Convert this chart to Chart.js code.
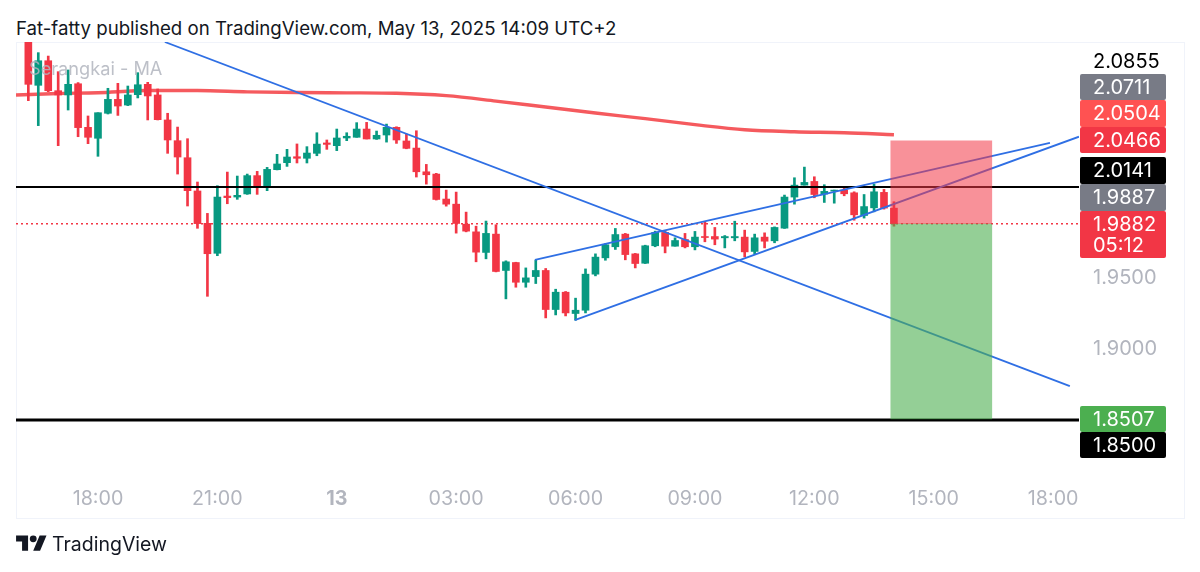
<!DOCTYPE html>
<html>
<head>
<meta charset="utf-8">
<script src="https://cdn.jsdelivr.net/npm/chart.js@4"></script>
<style>
  html, body { margin: 0; padding: 0; background: #fff; width: 1200px; height: 572px; overflow: hidden; }
  body { position: relative; font-family: Inter, "Noto Sans", sans-serif; }
  #title { position: absolute; left: 16px; top: 16px; font-size: 18.65px; line-height: 24px; color: #131722; white-space: nowrap; }
  #pane { position: absolute; left: 16px; top: 42px; width: 1167px; height: 475px; border: 1px solid #f0f3fa; }
  #chart { position: absolute; left: 0; top: 0; }
  #brand { position: absolute; left: 16px; top: 531px; height: 26px; display: flex; align-items: center; font-size: 19.5px; color: #131722; }
  #brand svg { width: 31px; height: 24px; margin-right: 5px; }
</style>
</head>
<body>
<div id="title">Fat-fatty published on TradingView.com, May 13, 2025 14:09 UTC+2</div>
<div id="pane"></div>
<canvas id="chart" width="1200" height="572"></canvas>
<div id="brand">
  <svg viewBox="0 0 36 28"><path d="M14 22H7V11H0V4h14v18zM28 22h-8l7.5-18h8L28 22z" fill="#131722"/><circle cx="20" cy="8" r="4" fill="#131722"/></svg>
  <span>TradingView</span>
</div>
<script>
// hours counted from May 12 00:00, 15 minute candles
const candleTimes = [
  16.25,16.5,16.75,17,17.25,17.5,17.75,18,18.25,18.5,18.75,19,19.25,19.5,19.75,20,20.25,20.5,20.75,21,21.25,21.5,
  21.75,22,22.25,22.5,22.75,23,23.25,23.5,23.75,24,24.25,24.5,24.75,25,25.25,25.5,25.75,26,26.25,26.5,26.75,27,
  27.25,27.5,27.75,28,28.25,28.5,28.75,29,29.25,29.5,29.75,30,30.25,30.5,30.75,31,31.25,31.5,31.75,32,32.25,32.5,
  32.75,33,33.25,33.5,33.75,34,34.25,34.5,34.75,35,35.25,35.5,35.75,36,36.25,36.5,36.75,37,37.25,37.5,37.75,38
];
const opens = [
  2.1250,2.0857,2.1030,2.0819,2.0789,2.0868,2.0561,2.0484,2.0660,2.0758,2.0718,2.0791,2.0864,2.0789,2.0613,2.0467,2.0347,2.0113,1.9885,1.9674,2.0077,2.0070,
  2.0092,2.0221,2.0141,2.0263,2.0312,2.0354,2.0343,2.0378,2.0451,2.0432,2.0486,2.0491,2.0549,2.0479,2.0507,2.0561,2.0465,2.0415,2.0248,2.0232,2.0056,2.0020,
  1.9879,1.9825,1.9680,1.9809,1.9553,1.9609,1.9470,1.9510,1.9553,1.9278,1.9400,1.9250,1.9273,1.9527,1.9642,1.9720,1.9809,1.9670,1.9604,1.9727,1.9821,1.9724,
  1.9771,1.9720,1.9792,1.9792,1.9783,1.9783,1.9788,1.9687,1.9788,1.9762,1.9851,2.0070,2.0154,2.0180,2.0091,2.0112,2.0119,2.0100,1.9940,1.9994,2.0103,1.9992
];
const highs = [
  2.1300,2.1087,2.1063,2.0953,2.0965,2.0876,2.0641,2.0664,2.0836,2.0871,2.0852,2.0946,2.0878,2.0831,2.0660,2.0563,2.0481,2.0176,1.9955,2.0150,2.0246,2.0218,
  2.0232,2.0251,2.0279,2.0371,2.0406,2.0444,2.0425,2.0523,2.0472,2.0549,2.0523,2.0594,2.0596,2.0535,2.0584,2.0565,2.0514,2.0537,2.0300,2.0237,2.0119,2.0105,
  1.9964,1.9865,1.9901,1.9875,1.9621,1.9611,1.9571,1.9626,1.9567,1.9421,1.9405,1.9358,1.9564,1.9670,1.9741,1.9849,1.9814,1.9673,1.9731,1.9830,1.9832,1.9783,
  1.9814,1.9828,1.9893,1.9856,1.9799,1.9900,1.9837,1.9809,1.9818,1.9860,2.0084,2.0206,2.0281,2.0213,2.0157,2.0119,2.0143,2.0107,2.0088,2.0161,2.0124,2.0037
];
const lows = [
  2.0749,2.0573,2.0812,2.0432,2.0683,2.0495,2.0446,2.0357,2.0655,2.0645,2.0714,2.0768,2.0613,2.0613,2.0378,2.0232,2.0007,1.9850,1.9371,1.9657,2.0023,2.0054,
  2.0089,2.0089,2.0115,2.0261,2.0286,2.0310,2.0310,2.0361,2.0406,2.0397,2.0467,2.0491,2.0479,2.0476,2.0457,2.0448,2.0410,2.0211,2.0161,2.0049,2.0006,1.9816,
  1.9825,1.9614,1.9635,1.9543,1.9353,1.9435,1.9435,1.9461,1.9219,1.9240,1.9233,1.9203,1.9254,1.9515,1.9625,1.9701,1.9628,1.9571,1.9602,1.9720,1.9677,1.9724,
  1.9712,1.9698,1.9755,1.9734,1.9712,1.9762,1.9649,1.9670,1.9712,1.9748,1.9849,2.0020,2.0154,2.0065,2.0032,2.0027,2.0079,1.9907,1.9922,1.9966,1.9985,1.9865
];
const closes = [
  2.0864,2.1030,2.0819,2.0789,2.0864,2.0559,2.0491,2.0664,2.0758,2.0711,2.0789,2.0861,2.0782,2.0615,2.0472,2.0352,2.0115,1.9883,1.9671,2.0070,2.0066,2.0082,
  2.0221,2.0138,2.0265,2.0303,2.0352,2.0343,2.0380,2.0443,2.0441,2.0486,2.0498,2.0549,2.0479,2.0505,2.0561,2.0472,2.0413,2.0248,2.0227,2.0053,2.0020,1.9884,
  1.9830,1.9682,1.9814,1.9546,1.9614,1.9470,1.9501,1.9553,1.9278,1.9400,1.9254,1.9273,1.9527,1.9647,1.9734,1.9806,1.9665,1.9602,1.9727,1.9821,1.9724,1.9764,
  1.9720,1.9788,1.9785,1.9774,1.9792,1.9792,1.9684,1.9783,1.9759,1.9856,2.0070,2.0154,2.0173,2.0088,2.0110,2.0119,2.0093,1.9945,2.0003,2.0107,1.9992,1.9882
];

const maTimes  = [15.94,17,18,19.25,20.5,21.75,23,24.25,25.5,26.75,28,29.25,30.5,31.75,33,34.25,35.5,36.75,38];
const maValues = [2.0789,2.0799,2.0805,2.0820,2.0820,2.0811,2.0806,2.0804,2.0801,2.0784,2.0746,2.0704,2.0662,2.0622,2.0580,2.0544,2.0530,2.0523,2.0509];

// trend lines drawn on the chart
const fallingTimes  = [19.68,42.42];
const fallingPrices = [2.1162,1.8739];
const upperTimes    = [28.98,41.92];
const upperPrices   = [1.9627,2.0451];
const lowerTimes    = [29.98,42.65];
const lowerPrices   = [1.9204,2.0495];

const supportLevels = [2.0141,1.8500];
const lastPrice = 1.9882;
const stopZone = [1.9882,2.0466];
const targetZone = [1.8507,1.9882];
const zoneTime = 39.19;

const timeTicks  = [18,21,24,27,30,33,36,39,42];
const timeLabels = ['18:00','21:00','13','03:00','06:00','09:00','12:00','15:00','18:00'];
const priceTicks = [1.95,1.90];

const badgeLabels = ['2.0711','2.0504','2.0466','2.0141','1.9887','1.9882','1.8507','1.8500'];
const badgeColors = ['#787b86','#ff5252','#f23645','#000000','#787b86','#f23645','#4caf50','#000000'];
const badgeBoxes  = [[74,26],[100,27],[127,26],[157,27],[184,27],[211,47],[406,26],[432,26]];

const RED = '#f23645', GREEN = '#089981', BLUE = '#2f6fe4';
const FONT = 'Inter, "Noto Sans", sans-serif';

const xMin = 15.94, xMax = 42.65;
const candleColors = opens.map((o, i) => closes[i] >= o ? GREEN : RED);

function twoPoints(times, prices) {
  return times.map((t, i) => ({ x: t, y: prices[i] }));
}
function trendLine(times, prices) {
  return { type: 'line', data: twoPoints(times, prices), borderColor: BLUE, borderWidth: 1.8, pointRadius: 0, order: 1 };
}
function level(price, width) {
  return { type: 'line', data: twoPoints([xMin, xMax], [price, price]), borderColor: '#000', borderWidth: width, pointRadius: 0, order: 2 };
}
function zone(range, color) {
  return { type: 'bar', data: [{ x: zoneTime, y: range }], backgroundColor: color, barThickness: 101, grouped: false, order: 0 };
}

// text on the canvas: the watermark and the price badges
const overlayText = {
  id: 'overlayText',
  afterDatasetsDraw(chart) {
    const c = chart.ctx;
    c.save();
    c.font = '18.2px ' + FONT;
    c.fillStyle = 'rgba(178,181,190,0.85)';
    c.textBaseline = 'middle';
    c.fillText('Serangkai - MA', 29, 70);
    c.restore();
  },
  afterDraw(chart) {
    const c = chart.ctx;
    c.save();
    c.font = '20px ' + FONT;
    c.textBaseline = 'middle';
    c.fillStyle = '#000';
    c.fillText('2.0855', 1093, 62);
    badgeLabels.forEach((label, i) => {
      const top = badgeBoxes[i][0], h = badgeBoxes[i][1];
      c.fillStyle = badgeColors[i];
      c.beginPath();
      c.roundRect(1080, top, 86, h, 2);
      c.fill();
      c.fillStyle = '#fff';
      c.fillText(label, 1093, top + 14);
      if (label === '1.9882') c.fillText('05:12', 1093, top + 35);
    });
    c.restore();
  }
};

new Chart(document.getElementById('chart'), {
  data: {
    datasets: [
      zone(stopZone, 'rgba(242,54,69,0.55)'),
      zone(targetZone, 'rgba(76,175,80,0.6)'),
      trendLine(fallingTimes, fallingPrices),
      trendLine(upperTimes, upperPrices),
      trendLine(lowerTimes, lowerPrices),
      level(supportLevels[0], 2),
      level(supportLevels[1], 3.2),
      {
        type: 'bar',
        data: candleTimes.map((t, i) => ({ x: t, y: [lows[i], highs[i]] })),
        backgroundColor: candleColors, barThickness: 2, grouped: false, order: 3
      },
      {
        type: 'bar',
        data: candleTimes.map((t, i) => ({ x: t, y: [opens[i], closes[i]] })),
        backgroundColor: candleColors, barThickness: 7, grouped: false, order: 3
      },
      {
        type: 'line', data: twoPoints(maTimes, maValues), borderColor: '#f55a5e', borderWidth: 3.4,
        pointRadius: 0, cubicInterpolationMode: 'monotone', order: 4
      },
      {
        type: 'line', data: twoPoints([xMin, xMax], [lastPrice, lastPrice]), borderColor: RED, borderWidth: 1.5,
        borderDash: [2, 3], pointRadius: 0, order: 5
      }
    ]
  },
  options: {
    responsive: false,
    animation: false,
    layout: { padding: { left: 16, top: 42, right: 16, bottom: 55 } },
    plugins: { legend: { display: false }, tooltip: { enabled: false } },
    scales: {
      x: {
        type: 'linear', min: xMin, max: xMax, offset: false,
        grid: { display: false, drawTicks: false }, border: { display: false },
        afterBuildTicks: s => { s.ticks = timeTicks.map(v => ({ value: v })); },
        afterFit: s => { s.height = 27; },
        ticks: {
          maxRotation: 0, autoSkip: false, padding: -3,
          color: '#b2b5be',
          font: ctx => ({ family: FONT, size: 19.7, weight: ctx.tick && ctx.tick.value === 24 ? '700' : '400' }),
          callback: v => timeLabels[timeTicks.indexOf(v)]
        }
      },
      y: {
        position: 'right', min: 1.8007, max: 2.1162,
        grid: { display: false, drawTicks: false }, border: { display: false },
        afterBuildTicks: s => { s.ticks = priceTicks.map(v => ({ value: v })); },
        afterFit: s => { s.width = 105; },
        ticks: {
          padding: 14, color: '#b2b5be',
          font: { family: FONT, size: 20 },
          callback: v => v.toFixed(4)
        }
      }
    }
  },
  plugins: [overlayText]
});
</script>
</body>
</html>
